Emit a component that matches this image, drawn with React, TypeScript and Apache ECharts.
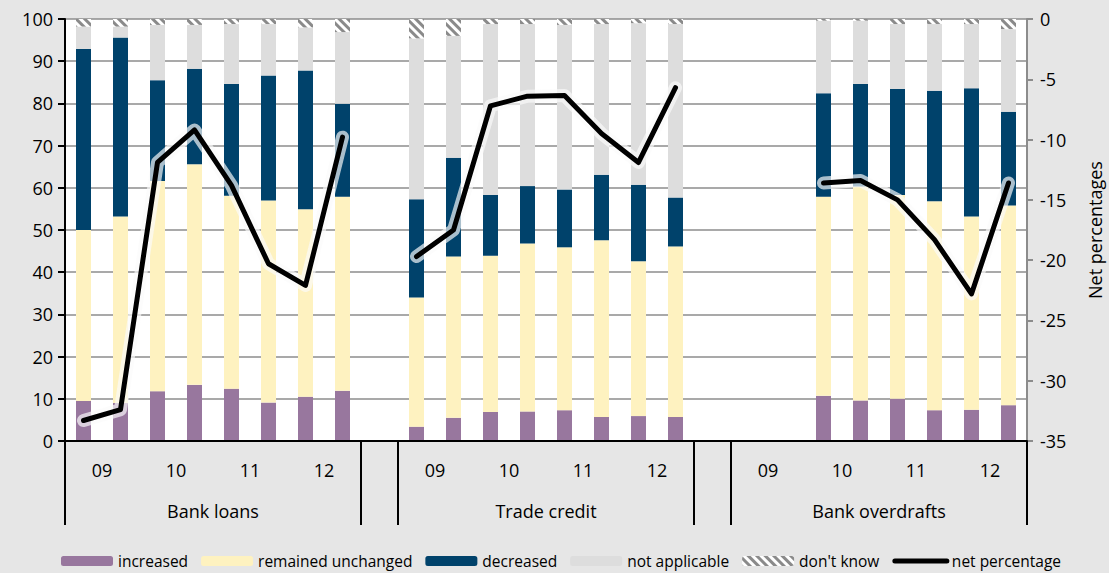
import React, { useEffect, useRef } from "react";
import * as echarts from "echarts";

// ---- categories (26 slots: 8 bank loans, gap, 8 trade credit, gap, 8 bank overdrafts)
const categories = [
  "BL 09a", "BL 09b", "BL 10a", "BL 10b", "BL 11a", "BL 11b", "BL 12a", "BL 12b",
  "gap1",
  "TC 09a", "TC 09b", "TC 10a", "TC 10b", "TC 11a", "TC 11b", "TC 12a", "TC 12b",
  "gap2",
  "BO 09a", "BO 09b", "BO 10a", "BO 10b", "BO 11a", "BO 11b", "BO 12a", "BO 12b",
];
const yearLabels = ["09", "10", "11", "12"];
const groupLabels = ["Bank loans", "Trade credit", "Bank overdrafts"];
const groupStarts = [0, 9, 18];
const groupSize = 8;

// ---- series values (percent of respondents)
const increased = [9.5, 9.0, 11.8, 13.3, 12.4, 9.1, 10.5, 11.9, null,
  3.4, 5.5, 6.9, 7.0, 7.3, 5.7, 5.9, 5.7, null,
  null, null, 10.7, 9.6, 10.0, 7.3, 7.4, 8.5];
const unchanged = [40.5, 44.2, 49.8, 52.3, 45.7, 47.9, 44.4, 46.0, null,
  30.6, 38.2, 37.0, 39.8, 38.6, 41.9, 36.7, 40.4, null,
  null, null, 47.2, 50.7, 48.3, 49.5, 45.8, 47.3];
const decreased = [42.9, 42.4, 23.9, 22.6, 26.5, 29.6, 32.9, 22.0, null,
  23.3, 23.4, 14.4, 13.6, 13.7, 15.5, 18.1, 11.6, null,
  null, null, 24.5, 24.3, 25.1, 26.2, 30.4, 22.2];
const notApplicable = [5.3, 2.6, 13.1, 10.4, 14.2, 12.2, 10.2, 17.0, null,
  38.1, 28.9, 40.5, 38.4, 39.0, 35.7, 38.3, 41.1, null,
  null, null, 17.2, 15.0, 15.4, 15.8, 15.2, 19.6];
const dontKnow = [1.8, 1.8, 1.4, 1.4, 1.2, 1.2, 2.0, 3.1, null,
  4.6, 4.0, 1.2, 1.2, 1.4, 1.2, 1.0, 1.2, null,
  null, null, 0.4, 0.4, 1.2, 1.2, 1.2, 2.4];
const netPercentage = [-33.3, -32.4, -11.9, -9.2, -13.8, -20.3, -22.1, -9.8, null,
  -19.7, -17.5, -7.2, -6.4, -6.35, -9.5, -11.9, -5.7, null,
  null, null, -13.6, -13.4, -15.0, -18.3, -22.8, -13.6];

// ---- derived positions on the helper value axes (in category units)
const separatorTicks: number[] = [];
groupStarts.forEach((s) => { separatorTicks.push(s, s + groupSize); });
const yearPos: Record<number, string> = {};
groupStarts.forEach((s) => yearLabels.forEach((y, k) => { yearPos[s + 2 * k + 1] = y; }));
const groupPos: Record<number, string> = {};
groupStarts.forEach((s, i) => { groupPos[s + groupSize / 2] = groupLabels[i]; });

const FONT = "Open Sans";

export default function App() {
  const ref = useRef<HTMLDivElement>(null);
  useEffect(() => {
    const chart = echarts.init(ref.current as HTMLDivElement, null, { renderer: "svg" });
    const barBase = { type: "bar", stack: "total", barWidth: 15, xAxisIndex: 0, yAxisIndex: 0 };
    chart.setOption({
      animation: false,
      backgroundColor: "#e6e6e6",
      textStyle: { fontFamily: FONT },
      grid: {
        left: 65, right: 82, top: 19, bottom: 132,
        show: true, backgroundColor: "#ffffff", borderWidth: 0,
        outerBoundsMode: "none",
      },
      legend: {
        data: [
          { name: "increased" },
          { name: "remained unchanged" },
          { name: "decreased" },
          { name: "not applicable" },
          { name: "don't know" },
          {
            name: "net percentage",
            itemStyle: { color: "rgba(0,0,0,0)", borderWidth: 0 },
            lineStyle: { color: "#000", width: 5 },
          },
        ],
        left: 56,
        top: 548,
        itemWidth: 52,
        itemHeight: 10,
        itemGap: 13,
        textStyle: { fontFamily: FONT, fontSize: 15.5, lineHeight: 16, color: "#000" },
      },
      xAxis: [
        {
          type: "category",
          data: categories,
          boundaryGap: true,
          axisLine: { show: true, onZero: false, lineStyle: { color: "#000", width: 2 } },
          axisTick: { show: false },
          axisLabel: { show: false },
          splitLine: { show: false },
          z: 5,
        },
        {
          type: "value",
          min: 0,
          max: categories.length,
          position: "bottom",
          axisLine: { show: false, onZero: false },
          splitLine: { show: false },
          axisTick: { show: true, inside: false, customValues: separatorTicks, length: 84, lineStyle: { color: "#000", width: 2 } },
          axisLabel: {
            customValues: Object.keys(yearPos).map(Number),
            formatter: (v: number) => yearPos[v] ?? "",
            margin: 20,
            fontFamily: FONT,
            fontSize: 18,
            color: "#000",
          },
        },
        {
          type: "value",
          min: 0,
          max: categories.length,
          position: "bottom",
          axisLine: { show: false, onZero: false },
          splitLine: { show: false },
          axisTick: { show: false },
          axisLabel: {
            customValues: Object.keys(groupPos).map(Number),
            formatter: (v: number) => groupPos[v] ?? "",
            margin: 61,
            fontFamily: FONT,
            fontSize: 18,
            color: "#000",
          },
        },
      ],
      yAxis: [
        {
          type: "value",
          min: 0,
          max: 100,
          interval: 10,
          position: "left",
          axisLine: { show: true, onZero: false, lineStyle: { color: "#000", width: 2 } },
          axisTick: { show: true, length: 7, lineStyle: { color: "#000", width: 2 } },
          axisLabel: { margin: 12, fontFamily: FONT, fontSize: 18, color: "#000" },
          splitLine: { show: true, lineStyle: { color: "#8c8c8c", width: 1.5 } },
        },
        {
          type: "value",
          min: -35,
          max: 0,
          interval: 5,
          position: "right",
          name: "Net percentages",
          nameLocation: "middle",
          nameRotate: 90,
          nameGap: 59,
          nameTextStyle: { fontFamily: FONT, fontSize: 18, color: "#000" },
          axisLine: { show: true, onZero: false, lineStyle: { color: "#8c8c8c", width: 2 } },
          axisTick: { show: true, length: 6, lineStyle: { color: "#8c8c8c", width: 2 } },
          axisLabel: { margin: 13, fontFamily: FONT, fontSize: 18, color: "#000" },
          splitLine: { show: false },
        },
      ],
      series: [
        { ...barBase, name: "increased", data: increased, itemStyle: { color: "#98779e" } },
        { ...barBase, name: "remained unchanged", data: unchanged, itemStyle: { color: "#fef2c0" } },
        { ...barBase, name: "decreased", data: decreased, itemStyle: { color: "#00426b" } },
        { ...barBase, name: "not applicable", data: notApplicable, itemStyle: { color: "#dddddd" } },
        {
          ...barBase,
          name: "don't know",
          data: dontKnow,
          itemStyle: {
            color: "#ffffff",
            decal: {
              symbol: "rect",
              symbolSize: 1,
              color: "#8a8a8a",
              backgroundColor: "#ffffff",
              dashArrayX: [1, 0],
              dashArrayY: [3, 3],
              rotation: Math.PI / 4,
            },
          },
        },
        {
          type: "line",
          name: "glow",
          data: netPercentage,
          xAxisIndex: 0,
          yAxisIndex: 1,
          symbol: "none",
          silent: true,
          z: 3,
          lineStyle: { color: "rgba(250,250,250,0.68)", width: 13, join: "round", cap: "round" },
        },
        {
          type: "line",
          name: "net percentage",
          data: netPercentage,
          xAxisIndex: 0,
          yAxisIndex: 1,
          symbol: "none",
          z: 4,
          itemStyle: { color: "#000" },
          lineStyle: { color: "#000", width: 5, join: "round", cap: "round" },
        },
      ],
    });
    return () => chart.dispose();
  }, []);
  return (
    <div
      ref={ref}
      style={{ position: "absolute", left: 0, top: 0, width: 1109, height: 573, background: "#e6e6e6" }}
    />
  );
}
